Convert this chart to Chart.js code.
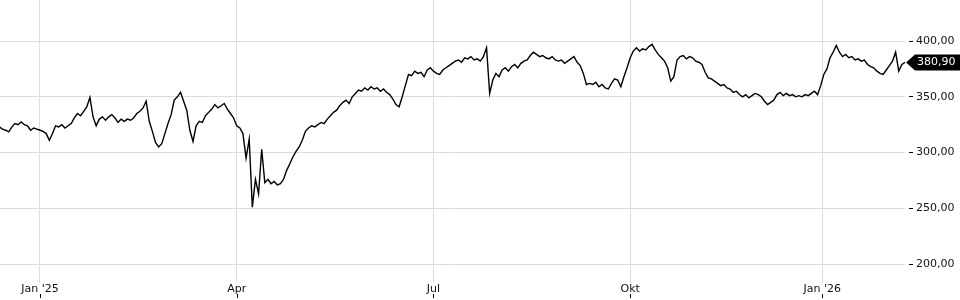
<!DOCTYPE html>
<html>
<head>
<meta charset="utf-8">
<script src="https://cdn.jsdelivr.net/npm/chart.js@4.4.1/dist/chart.umd.min.js"></script>
<style>
html,body{margin:0;padding:0;background:#fff;}
#wrap{width:960px;height:300px;}
</style>
</head>
<body>
<div id="wrap"><canvas id="c" width="960" height="300"></canvas></div>
<script>
// Trading-session index of the first value (Jan 2025 first session = 0)
const firstSession = -13;
// Daily closing prices
const closes = [
323,321,320,318.5,323,326,325,327.5,325,324,320,322,321,
320,319,317,311,317,324,323,325,322,324,326,331,335,333,337,341,349.5,332,324,
330,332,329,332,334,331,327,330,328,330,329,331,335,337,340,346,328,319,309,305,
308,317,326,334,347,350,354,346,338,320,310,324,328,
327,333,336,339,343,340,342,344,339,335,331,324,322,317,295,312,251,276,263,303,
273,276,272,274,271,272,276,284,290,296,301,305,311,319,322,324,323,325,
327,326,330,333,336,338,342,345,347,344,350,353,356,355,358,356,359,357,358,355,
357,354,352,348,343,341,350,360,370,369,373,371,372,368,374,376,373,371,370,374,
376,378,380,382,383,381,385,384,386,383,384,382,386,394,353,365,371,368,374,376,
373,377,379,376,380,382,383,387,390,388,386,387,385,384,386,383,382,383,380,382,
384,386,381,378,371,361,362,361,363,359,361,358,357,362,366,365,359,368,376,385,
391,394,391,393,392,395,397,392,388,385,382,376,364,368,383,386,387,384,386,385,
382,381,379,372,367,366,364,362,360,361,358,357,354,355,352,350,352,349,351,353,
352,350,346,343,345,347,352,354,351,353,351,352,350,351,350,352,351,353,355,352,
360,370,375,385,390,396,390,386,388,385,386,383,384,382,383,379,377,376,373,371,
370,374,378,382,390,373,379,380.9
];
// X-axis month ticks (session index) and their labels
const monthTickSessions = [0, 63, 126, 189, 250.5];
const monthTickLabels = ["Jan '25", "Apr", "Jul", "Okt", "Jan '26"];
// Y-axis tick values
const priceTicks = [200, 250, 300, 350, 400];

const points = closes.map((v, i) => ({x: firstSession + i, y: v}));
const lastValue = closes[closes.length - 1];
const fmt = new Intl.NumberFormat('de-DE', {minimumFractionDigits: 2, maximumFractionDigits: 2});
const FONT = 'DejaVu Sans';

const extras = {
  id: 'extras',
  afterDraw(chart) {
    const ctx = chart.ctx;
    const xs = chart.scales.x, ys = chart.scales.y;
    ctx.save();
    ctx.fillStyle = '#000';
    monthTickSessions.forEach(s => {
      const px = Math.round(xs.getPixelForValue(s));
      ctx.fillRect(px, 294, 1, 4);
    });
    const y = Math.round(ys.getPixelForValue(lastValue)) + 0.5;
    const x0 = chart.chartArea.right + 1;
    const h = 8;
    ctx.beginPath();
    ctx.moveTo(x0, y);
    ctx.lineTo(x0 + 9, y - h);
    ctx.lineTo(chart.width, y - h);
    ctx.lineTo(chart.width, y + h);
    ctx.lineTo(x0 + 9, y + h);
    ctx.closePath();
    ctx.fillStyle = '#000';
    ctx.fill();
    ctx.fillStyle = '#fff';
    ctx.font = '11px "' + FONT + '"';
    ctx.textBaseline = 'middle';
    ctx.textAlign = 'left';
    ctx.fillText(fmt.format(lastValue), 917, y);
    ctx.restore();
  }
};

new Chart(document.getElementById('c'), {
  type: 'line',
  data: {
    datasets: [{
      data: points,
      borderColor: '#000',
      borderWidth: 1.4,
      pointRadius: 0,
      tension: 0,
      fill: false
    }]
  },
  options: {
    responsive: false,
    animation: false,
    events: [],
    layout: {padding: 0},
    plugins: {legend: {display: false}, tooltip: {enabled: false}},
    scales: {
      x: {
        type: 'linear',
        min: -12.8,
        max: 277,
        border: {display: false},
        grid: {color: '#dcdcdc', drawTicks: false, lineWidth: 1},
        afterBuildTicks(scale) { scale.ticks = monthTickSessions.map(v => ({value: v})); },
        afterFit(scale) { scale.height = 17; scale.paddingLeft = 0; scale.paddingRight = 0; },
        ticks: {
          padding: 0,
          maxRotation: 0,
          autoSkip: false,
          color: '#111',
          font: {family: FONT, size: 11},
          callback(v) { const i = monthTickSessions.indexOf(v); return i >= 0 ? monthTickLabels[i] : ''; }
        }
      },
      y: {
        position: 'right',
        min: 183,
        max: 436.8,
        border: {display: false},
        grid: {color: '#dcdcdc', tickColor: '#000', tickLength: 8, tickBorderDash: [0, 4, 4, 100], lineWidth: 1},
        afterBuildTicks(scale) { scale.ticks = priceTicks.map(v => ({value: v})); },
        afterFit(scale) { scale.width = 55; scale.paddingTop = 0; scale.paddingBottom = 0; },
        ticks: {
          padding: 3,
          color: '#111',
          font: {family: FONT, size: 11},
          callback(v) { return fmt.format(v); }
        }
      }
    }
  },
  plugins: [extras]
});
</script>
</body>
</html>
